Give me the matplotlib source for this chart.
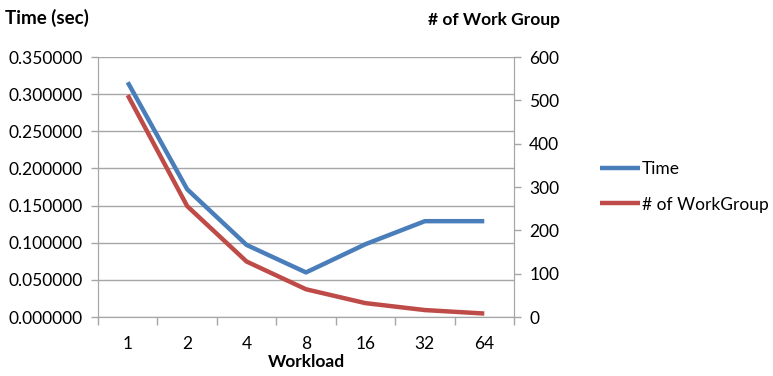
import matplotlib
matplotlib.use("Agg")
import matplotlib.pyplot as plt
from matplotlib.ticker import FixedLocator, FuncFormatter

plt.rcParams['font.family'] = ['Lato', 'DejaVu Sans']

workload = ["1", "2", "4", "8", "16", "32", "64"]
time_sec = [0.316, 0.172, 0.097, 0.060, 0.098, 0.129, 0.129]
work_groups = [512, 256, 128, 64, 32, 16, 8]

blue = "#4a7ebb"
red = "#be4b48"
grid = "#a6a6a6"
fs = 12.5

fig = plt.figure(figsize=(7.73, 3.76), dpi=100)
ax = fig.add_axes([98 / 773, 1 - 317 / 376, 416 / 773, 260 / 376])
ax2 = ax.twinx()

x = list(range(len(workload)))
l1, = ax.plot(x, time_sec, color=blue, lw=3.2, solid_capstyle="butt", zorder=3)
l2, = ax2.plot(x, work_groups, color=red, lw=3.2, solid_capstyle="butt", zorder=3)

ax.set_xlim(-0.5, len(workload) - 0.5)
ax.set_ylim(0, 0.35)
ax2.set_ylim(0, 600)

ax.set_yticks([i * 0.05 for i in range(8)])
ax.yaxis.set_major_formatter(FuncFormatter(lambda v, p: f"{v:.6f}"))
ax2.set_yticks(range(0, 601, 100))

ax.set_xticks(x)
ax.set_xticklabels(workload)
ax.xaxis.set_minor_locator(FixedLocator([i - 0.5 for i in range(len(workload) + 1)]))
ax.tick_params(axis="x", which="major", length=0, pad=14, labelsize=fs)
ax.tick_params(axis="x", which="minor", length=6, color=grid, width=1)
ax.tick_params(axis="y", length=5, color=grid, width=1, labelsize=fs, pad=6)
ax2.tick_params(axis="y", length=5, color=grid, width=1, labelsize=fs, pad=6)

ax.grid(axis="y", color=grid, lw=1, zorder=0)
for a in (ax, ax2):
    a.spines["top"].set_visible(False)
    a.spines["left"].set_color(grid)
    a.spines["right"].set_color(grid)
    a.spines["bottom"].set_color(grid)

fig.text(5 / 773, 1 - 18 / 376, "Time (sec)", fontsize=13.5, fontweight="bold",
         ha="left", va="center")
fig.text(428 / 773, 1 - 20 / 376, "# of Work Group", fontsize=fs, fontweight="bold",
         ha="left", va="center")
fig.text(306 / 773, 1 - 362 / 376, "Workload", fontsize=fs, fontweight="bold",
         ha="center", va="center")

fig.legend([l1, l2], ["Time", "# of WorkGroup"], loc="center left",
           bbox_to_anchor=(600 / 773, 1 - 187 / 376), frameon=False,
           fontsize=fs, handlelength=2.3, handletextpad=0.1, labelspacing=1.1,
           borderaxespad=0, borderpad=0)

fig.savefig("out.png", dpi=100)
